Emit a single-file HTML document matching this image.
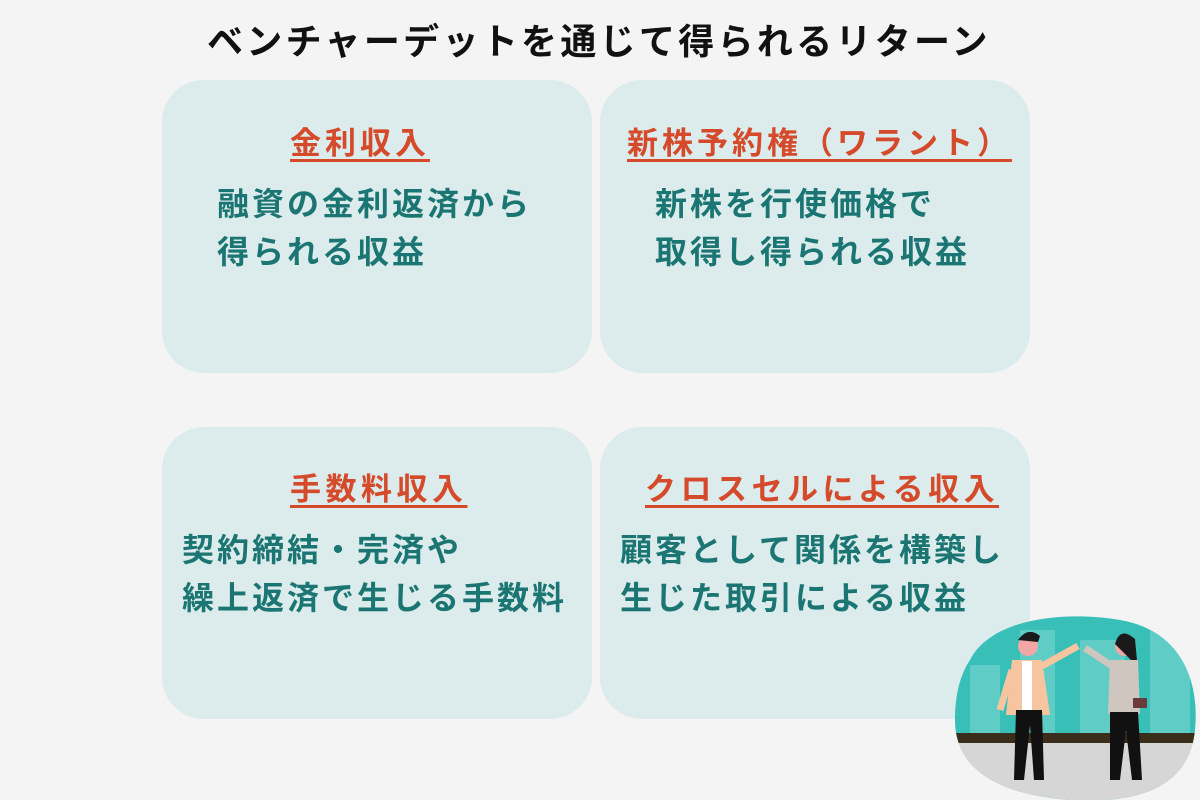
<!DOCTYPE html>
<html><head><meta charset="utf-8"><style>
body{margin:0;width:1200px;height:800px;background:#f4f4f4;position:relative;overflow:hidden;font-family:"Liberation Sans","Noto Sans CJK JP",sans-serif;font-weight:bold}
.t{position:absolute;white-space:nowrap}
.box{position:absolute;background:#dcebeb;border-radius:42px;width:430px}
.h{position:absolute;white-space:nowrap;color:#d44a2a;font-size:31px;letter-spacing:4px;text-decoration:underline;text-decoration-thickness:3px;text-underline-offset:5px;line-height:40px}
.b{position:absolute;white-space:nowrap;color:#1b7673;font-size:32px;letter-spacing:3px;line-height:48px}
</style></head><body>
<div class="t" style="left:207px;top:18px;font-size:36px;letter-spacing:3.3px;color:#111;line-height:48px">ベンチャーデットを通じて得られるリターン</div>
<div class="box" style="left:162px;top:80px;height:293px"></div>
<div class="box" style="left:600px;top:80px;height:293px"></div>
<div class="box" style="left:162px;top:427px;height:292px"></div>
<div class="box" style="left:600px;top:427px;height:292px"></div>

<div class="h" style="left:290px;top:124px">金利収入</div>
<div class="b" style="left:217px;top:180px">融資の金利返済から<br>得られる収益</div>

<div class="h" style="left:627px;top:124px;letter-spacing:4px">新株予約権（ワラント）</div>
<div class="b" style="left:655px;top:180px">新株を行使価格で<br>取得し得られる収益</div>

<div class="h" style="left:290px;top:470px;letter-spacing:4.5px">手数料収入</div>
<div class="b" style="left:182px;top:526px">契約締結・完済や<br>繰上返済で生じる手数料</div>

<div class="h" style="left:645px;top:470px;letter-spacing:4.5px">クロスセルによる収入</div>
<div class="b" style="left:620px;top:526px">顧客として関係を構築し<br>生じた取引による収益</div>

<svg style="position:absolute;left:950px;top:600px" width="250" height="200" viewBox="0 0 250 200">
<defs><clipPath id="c"><path d="M20,60 C40,20 110,10 170,20 C230,30 250,80 245,130 C240,180 200,205 120,200 C50,195 5,170 5,120 C5,95 10,75 20,60Z"/></clipPath></defs>
<g clip-path="url(#c)">
<rect width="250" height="200" fill="#38bfb8"/>
<g fill="#5fcdc6"><rect x="20" y="65" width="30" height="80"/><rect x="70" y="30" width="35" height="110"/><rect x="130" y="40" width="45" height="100"/><rect x="200" y="25" width="40" height="120"/></g>
<rect y="133" width="250" height="10" fill="#3a2e1a"/>
<rect y="143" width="250" height="60" fill="#d6d6d6"/>
</g>
<g>
<circle cx="78" cy="46" r="10" fill="#f2a7a5"/><path d="M68,40 q10,-14 22,-4 l-2,6 z" fill="#1a1a1a"/>
<path d="M62,60 h30 l8,55 h-44z" fill="#f6c5a0"/><rect x="72" y="61" width="10" height="50" fill="#fff"/>
<path d="M92,66 L128,46" stroke="#f6c5a0" stroke-width="7"/><path d="M62,70 L50,110" stroke="#f6c5a0" stroke-width="7"/>
<path d="M66,110 h26 l2,70 h-10 l-4,-55 l-6,55 h-10z" fill="#111"/>
<circle cx="175" cy="46" r="10" fill="#f2a7a5"/><path d="M165,44 q5,-18 20,-5 l2,22 h-5z" fill="#1a1a1a"/>
<path d="M160,60 h28 l2,54 h-32z" fill="#cfc6bf"/>
<path d="M162,66 L135,48" stroke="#cfc6bf" stroke-width="7"/>
<path d="M160,112 h28 l4,68 h-10 l-6,-50 l-6,50 h-10z" fill="#111"/>
<rect x="183" y="98" width="14" height="10" fill="#6b3a3a"/>
</g>
</svg>
</body></html>
